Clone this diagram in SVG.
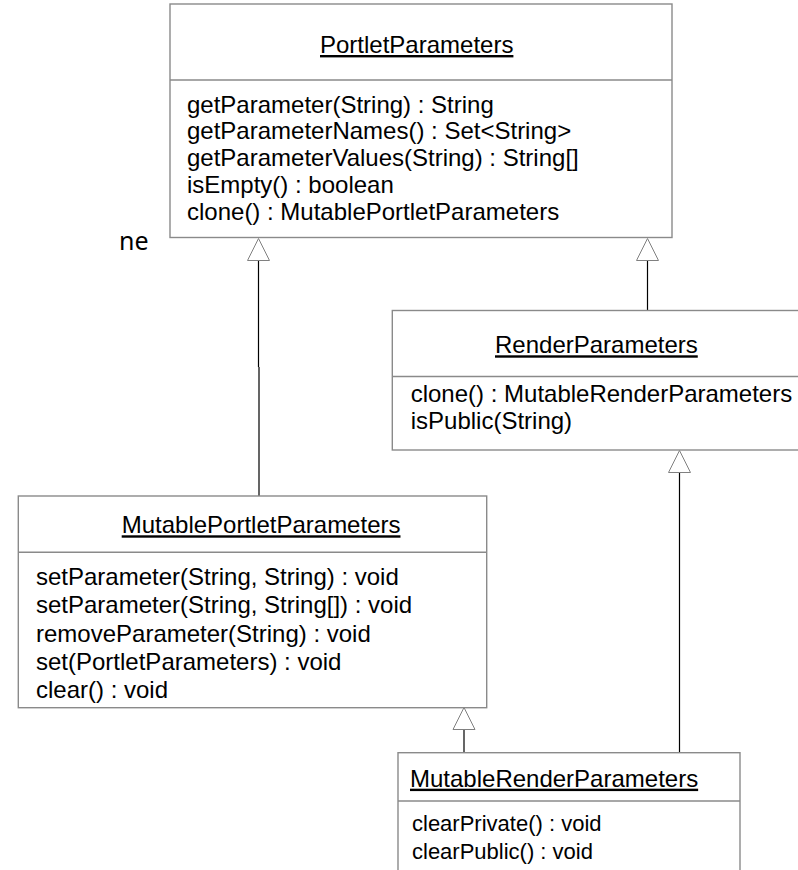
<svg xmlns="http://www.w3.org/2000/svg" width="798" height="870" viewBox="0 0 798 870">
<style>
.box{fill:#fff;stroke:#8a8a8a;stroke-width:1.4}
.sep{stroke:#8a8a8a;stroke-width:1.4}
.t{font-family:"Liberation Sans",Arial,sans-serif;font-size:24px;fill:#000}
.s{font-size:22px}
.u{text-decoration:underline}
.ln{stroke:#000;stroke-width:1.2;fill:none}
.tri{fill:#fff;stroke:#808080;stroke-width:1}
</style>
<rect width="798" height="870" fill="#fff"/>
<text x="119" y="250" style="font-family:'Noto Sans','Open Sans',sans-serif;font-size:25px;fill:#000">ne</text>
<g id="connectors">
<path class="ln" d="M258.5,258 V367 M259,367 V496"/>
<path class="tri" d="M258.5,238.5 L247.5,260.5 L269.5,260.5 Z"/>
<path class="ln" d="M647.5,258 V310"/>
<path class="tri" d="M647.5,238.5 L636.5,260.5 L658.5,260.5 Z"/>
<path class="ln" d="M464,727 V753"/>
<path class="tri" d="M464,707.5 L453,729.5 L475,729.5 Z"/>
<path class="ln" d="M679.5,470 V753"/>
<path class="tri" d="M679.5,450.5 L668.5,472.5 L690.5,472.5 Z"/>
</g>
<g id="PortletParameters">
<rect class="box" x="170" y="4" width="502" height="233.5"/>
<line class="sep" x1="170" y1="80" x2="672" y2="80"/>
<text class="t u" x="320" y="53">PortletParameters</text>
<text class="t" x="187" y="112.5">getParameter(String) : String</text>
<text class="t" x="187" y="139.3">getParameterNames() : Set&lt;String&gt;</text>
<text class="t" x="187" y="166">getParameterValues(String) : String[]</text>
<text class="t" x="187" y="192.8">isEmpty() : boolean</text>
<text class="t" x="187" y="219.6">clone() : MutablePortletParameters</text>
</g>
<g id="RenderParameters">
<rect class="box" x="392.3" y="310.5" width="420" height="139.5"/>
<line class="sep" x1="392.3" y1="376.5" x2="812" y2="376.5"/>
<text class="t u" x="495" y="353.3">RenderParameters</text>
<text class="t" x="410.7" y="401.7">clone() : MutableRenderParameters</text>
<text class="t" x="410.7" y="429.3">isPublic(String)</text>
</g>
<g id="MutablePortletParameters">
<rect class="box" x="18.3" y="496" width="468.4" height="211.7"/>
<line class="sep" x1="18.3" y1="552.3" x2="486.7" y2="552.3"/>
<text class="t u" x="121.7" y="533.3">MutablePortletParameters</text>
<text class="t" x="36" y="585">setParameter(String, String) : void</text>
<text class="t" x="36" y="613.3">setParameter(String, String[]) : void</text>
<text class="t" x="36" y="641.5">removeParameter(String) : void</text>
<text class="t" x="36" y="669.8">set(PortletParameters) : void</text>
<text class="t" x="36" y="698">clear() : void</text>
</g>
<g id="MutableRenderParameters">
<rect class="box" x="398" y="752.7" width="342" height="140"/>
<line class="sep" x1="398" y1="801" x2="740" y2="801"/>
<text class="t u" x="410" y="786.7">MutableRenderParameters</text>
<text class="t s" x="412" y="831">clearPrivate() : void</text>
<text class="t s" x="412" y="859">clearPublic() : void</text>
</g>
</svg>
